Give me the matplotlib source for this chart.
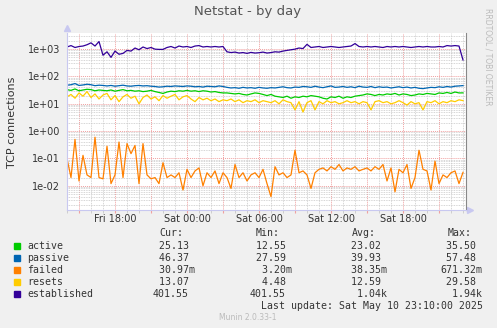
import matplotlib
matplotlib.use("Agg")
import matplotlib.pyplot as plt
import matplotlib.dates as mdates
import matplotlib.ticker as mticker
import pandas as pd

# samples every 20 minutes, Fri 14:00 -> Sat 23:00
times = pd.date_range("2025-05-09 14:00", periods=100, freq="20min")

established = [1200, 1350, 1150, 1250, 1300, 1450, 1700, 1300, 1900, 600,
               800, 500, 850, 650, 700, 900, 850, 1100, 950, 1200,
               1050, 1150, 1000, 980, 980, 1150, 1250, 1100, 1300, 1200,
               1250, 1150, 1300, 1350, 1200, 1250, 1200, 1250, 1200, 1250,
               800, 750, 780, 720, 750, 700, 760, 720, 740, 780,
               720, 750, 800, 780, 850, 900, 950, 1000, 1100, 1050,
               1500, 1150, 1200, 1250, 1150, 1200, 1250, 1200, 1150, 1200,
               1250, 1300, 1600, 1250, 1200, 1250, 1200, 1250, 1200, 1150,
               1250, 1200, 1250, 1200, 1250, 1200, 1150, 1200, 1250, 1200,
               1250, 1200, 1200, 1250, 1200, 1350, 1300, 1350, 1300, 401.55]

passive = [48, 50, 55, 47, 49, 52, 50, 46, 48, 47,
           45, 47, 44, 46, 48, 45, 44, 46, 47, 45,
           46, 44, 43, 41, 42, 44, 43, 45, 44, 43,
           45, 44, 42, 43, 41, 44, 43, 42, 45, 43,
           40, 38, 39, 37, 40, 38, 39, 37, 40, 38,
           37, 39, 38, 40, 42, 39, 38, 41, 40, 43,
           42, 40, 44, 41, 39, 42, 45, 40, 41, 43,
           40, 42, 39, 44, 41, 40, 43, 39, 42, 40,
           41, 38, 40, 42, 39, 41, 38, 40, 37, 36,
           38, 40, 39, 42, 40, 43, 41, 44, 45, 46.37]

active = [33, 31, 35, 30, 32, 34, 33, 30, 32, 31,
          30, 32, 29, 31, 33, 30, 31, 29, 30, 28,
          29, 31, 28, 26, 24, 27, 29, 28, 30, 29,
          31, 29, 30, 28, 30, 29, 27, 28, 26, 25,
          25, 24, 23, 24, 22, 21, 23, 25, 24, 22,
          20, 22, 19, 18, 17, 19, 16, 18, 17, 19,
          18, 20, 19, 18, 16, 15, 18, 17, 19, 16,
          18, 17, 19, 20, 21, 23, 22, 20, 22, 21,
          23, 22, 24, 21, 23, 22, 20, 21, 23, 22,
          24, 23, 22, 25, 24, 26, 24, 27, 25, 25.13]

resets = [18, 22, 16, 25, 19, 28, 17, 23, 15, 21,
          24, 14, 20, 12, 18, 22, 16, 19, 10, 17,
          21, 15, 18, 13, 20, 16, 19, 22, 14, 18,
          20, 15, 12, 17, 14, 16, 13, 15, 12, 14,
          13, 15, 12, 14, 11, 13, 12, 14, 11, 13,
          12, 11, 13, 10, 14, 12, 11, 6, 12, 5,
          11, 13, 6, 12, 10, 13, 11, 12, 10, 11,
          13, 11, 12, 10, 12, 11, 6, 12, 13, 11,
          12, 10, 11, 13, 11, 9, 12, 10, 11, 6,
          12, 11, 13, 10, 12, 11, 13, 12, 14, 13.07]

failed = [0.1, 0.02, 0.5, 0.015, 0.13, 0.025, 0.02, 0.6, 0.02, 0.018,
          0.28, 0.012, 0.025, 0.4, 0.02, 0.35, 0.15, 0.3, 0.012, 0.35,
          0.025, 0.018, 0.02, 0.012, 0.07, 0.02, 0.025, 0.02, 0.03, 0.007,
          0.04, 0.02, 0.035, 0.045, 0.01, 0.03, 0.02, 0.035, 0.012, 0.03,
          0.02, 0.008, 0.06, 0.02, 0.03, 0.015, 0.025, 0.03, 0.02, 0.04,
          0.012, 0.004, 0.05, 0.025, 0.03, 0.02, 0.025, 0.2, 0.03, 0.035,
          0.025, 0.008, 0.03, 0.04, 0.045, 0.035, 0.05, 0.04, 0.06, 0.035,
          0.045, 0.04, 0.05, 0.035, 0.04, 0.045, 0.035, 0.05, 0.04, 0.06,
          0.015, 0.045, 0.006, 0.04, 0.03, 0.06, 0.008, 0.02, 0.2, 0.04,
          0.035, 0.007, 0.08, 0.012, 0.025, 0.02, 0.03, 0.035, 0.012, 0.031]

names = ["active", "passive", "failed", "resets", "established"]
colors = ["#00CC00", "#0066B3", "#FF8000", "#FFCC00", "#330099"]
series = [active, passive, failed, resets, established]
cur = ["25.13", "46.37", "30.97m", "13.07", "401.55"]
mins = ["12.55", "27.59", "3.20m", "4.48", "401.55"]
avgs = ["23.02", "39.93", "38.35m", "12.59", "1.04k"]
maxs = ["35.50", "57.48", "671.32m", "29.58", "1.94k"]

W, H = 497, 328
fig = plt.figure(figsize=(W / 100, H / 100), dpi=100, facecolor="#F0F0F0")
ax = fig.add_axes([67 / W, 1 - 210 / H, 399 / W, 177 / H])
ax.set_facecolor("white")

for s, c in zip(series, colors):
    ax.plot(times, s, color=c, lw=0.9)

ax.set_yscale("log")
ax.set_ylim(1.3e-3, 3.9e3)
ax.set_xlim(pd.Timestamp("2025-05-09 14:00"), pd.Timestamp("2025-05-10 23:15"))

# grid like rrdtool
ax.xaxis.set_major_locator(mdates.HourLocator(byhour=range(0, 24, 3)))
ax.xaxis.set_minor_locator(mdates.HourLocator())
ax.xaxis.set_major_formatter(mticker.FuncFormatter(
    lambda v, p: mdates.num2date(v).strftime("%a %H:%M") if mdates.num2date(v).hour % 6 == 0 else ""))
ax.yaxis.set_major_locator(mticker.LogLocator(base=10, numticks=20))
ax.yaxis.set_minor_locator(mticker.LogLocator(base=10, subs=range(2, 10), numticks=20))
ax.yaxis.set_major_formatter(mticker.FuncFormatter(lambda v, p: f"{v:.0e}"))
ax.yaxis.set_minor_formatter(mticker.NullFormatter())

ax.grid(which="minor", color="#C8C8C8", ls=(0, (1, 1)), lw=0.6)
ax.grid(which="major", color="#F0A0A0", ls=(0, (1, 1)), lw=0.7)
ax.set_axisbelow(True)

ax.tick_params(axis="both", which="both", labelsize=7, colors="#333333", length=0)
ax.tick_params(axis="y", which="major", pad=5)
ax.tick_params(axis="x", which="major", length=2, color="#F0A0A0", pad=1)
ax.tick_params(axis="x", which="minor", length=2, color="#C8C8C8")

ax.spines["top"].set_visible(False)
ax.spines["right"].set_color("#888888")
ax.spines["right"].set_linewidth(0.8)
ax.spines["left"].set_color("#C8C8F0")
ax.spines["bottom"].set_color("#C8C8F0")
ax.plot([0], [1.03], marker="^", color="#C8C8F0", ms=4, transform=ax.transAxes, clip_on=False)
ax.plot([1.01], [0], marker=">", color="#C8C8F0", ms=4, transform=ax.transAxes, clip_on=False)

fig.text(12 / W, 1 - 122 / H, "TCP connections", rotation=90, ha="center", va="center",
         fontsize=8, color="#333333")
fig.text(248 / W, 1 - 12 / H, "Netstat - by day", ha="center", va="center", fontsize=9.5, color="#555555")
fig.text(488 / W, 1 - 57 / H, "RRDTOOL / TOBI OETIKER", rotation=270, ha="center", va="center",
         fontsize=5.5, color="#BBBBBB")

# legend block
mono = "DejaVu Sans Mono"
fs = 7.1
def ft(x, y, s, **kw):
    fig.text(x / W, 1 - y / H, s, fontsize=fs, family=mono, va="center", color="#333333", **kw)

ft(159, 233.5, "Cur:")
ft(255.7, 233.5, "Min:")
ft(351.7, 233.5, "Avg:")
ft(447.7, 233.5, "Max:")

def fmt(v):
    if v[-1] in "mk":
        return f"{float(v[:-1]):6.2f}{v[-1]}"
    return f"{float(v):6.2f}"

for i, n in enumerate(names):
    y = 245.7 + 12 * i
    fig.patches.append(plt.Rectangle((14 / W, 1 - (y + 3) / H), 6 / W, 6 / H,
                                     transform=fig.transFigure, color=colors[i]))
    ft(27, y, n)
    ft(152.7, y, fmt(cur[i]))
    ft(250, y, fmt(mins[i]))
    ft(345.3, y, fmt(avgs[i]))
    ft(440, y, fmt(maxs[i]))

ft(483, 305.7, "Last update: Sat May 10 23:10:00 2025", ha="right")
fig.text(248 / W, 1 - 317 / H, "Munin 2.0.33-1", ha="center", va="center", fontsize=5.5, color="#BBBBBB")

fig.savefig("out.png", dpi=100, facecolor=fig.get_facecolor())
